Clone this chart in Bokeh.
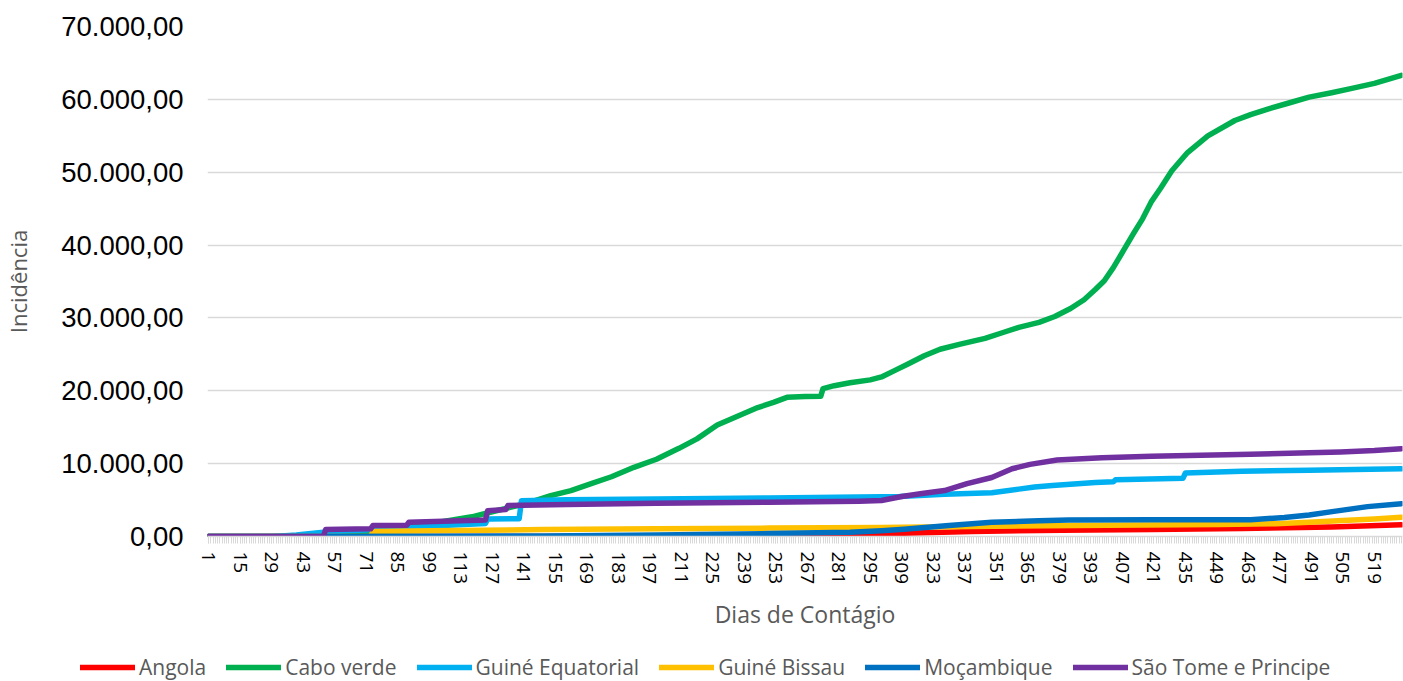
import numpy as np
from bokeh.plotting import figure
from bokeh.models import FixedTicker, CustomJSTickFormatter, Legend, LegendItem, Range1d
from bokeh.embed import file_html
from bokeh.resources import INLINE

# ---------------- data ----------------
n_days = 531
x_tick_labels = list(range(1, n_days + 1, 14))
y_ticks = [0, 10000, 20000, 30000, 40000, 50000, 60000, 70000]

series_names = ["Angola", "Cabo verde", "Guiné Equatorial", "Guiné Bissau",
                "Moçambique", "São Tome e Principe"]
series_colors = ["#FF0000", "#00B050", "#00B0F0", "#FFC000", "#0070C0", "#7030A0"]

angola_days = [1, 150, 200, 250, 290, 310, 340, 380, 420, 460, 500, 531]
angola_vals = [0, 0, 50, 150, 300, 450, 700, 850, 950, 1100, 1300, 1600]

cabo_days = [1, 35, 45, 60, 75, 90, 100, 110, 118, 127, 135, 143, 153, 162, 171, 180,
             190, 200, 210, 218, 227, 236, 245, 252, 258, 266, 273, 274, 279, 286, 295,
             300, 306, 312, 319, 326, 335, 346, 354, 361, 370, 377, 384, 390, 395, 399,
             403, 408, 412, 416, 420, 424, 429, 436, 445, 457, 464, 472, 481, 490, 500,
             509, 519, 531]
cabo_vals = [0, 0, 200, 500, 800, 1300, 1800, 2300, 2700, 3400, 4000, 4600, 5600, 6300,
             7250, 8200, 9500, 10600, 12100, 13400, 15300, 16500, 17700, 18400, 19100,
             19200, 19250, 20300, 20700, 21100, 21500, 21900, 22800, 23700, 24800, 25700,
             26400, 27200, 28000, 28700, 29400, 30200, 31300, 32500, 33900, 35100, 36900,
             39500, 41600, 43600, 46000, 47800, 50200, 52700, 55000, 57100, 57900, 58700,
             59500, 60300, 60900, 61500, 62200, 63300]

gequat_days = [1, 30, 40, 52, 70, 90, 105, 124, 125, 139, 140, 160, 200, 250, 300, 308,
               328, 349, 361, 368, 376, 395, 403, 404, 434, 435, 460, 490, 531]
gequat_vals = [0, 0, 200, 600, 900, 1200, 1500, 1800, 2400, 2450, 4900, 5050, 5150, 5300,
               5450, 5500, 5800, 6000, 6500, 6800, 7000, 7400, 7500, 7800, 8000, 8700,
               8950, 9100, 9300]

gbissau_days = [1, 73, 74, 100, 150, 200, 250, 300, 350, 400, 450, 475, 490, 505, 519, 531]
gbissau_vals = [0, 0, 700, 800, 950, 1050, 1150, 1250, 1400, 1550, 1650, 1750, 1950, 2200,
                2400, 2650]

mocamb_days = [1, 100, 150, 200, 250, 286, 300, 310, 330, 349, 370, 383, 420, 464, 479,
               490, 501, 516, 531]
mocamb_vals = [0, 30, 80, 200, 400, 600, 800, 1000, 1500, 1950, 2150, 2250, 2300, 2300,
               2600, 2950, 3450, 4100, 4500]

stp_days = [1, 52, 53, 73, 74, 89, 90, 124, 125, 133, 134, 160, 200, 250, 290, 300, 309,
            318, 328, 338, 349, 358, 366, 378, 398, 420, 464, 490, 504, 519, 531]
stp_vals = [0, 0, 950, 1050, 1500, 1550, 1950, 2250, 3550, 3700, 4250, 4400, 4550, 4700,
            4850, 4950, 5500, 5900, 6300, 7250, 8100, 9300, 9900, 10500, 10800, 11000,
            11300, 11500, 11600, 11800, 12050]

all_days = [angola_days, cabo_days, gequat_days, gbissau_days, mocamb_days, stp_days]
all_vals = [angola_vals, cabo_vals, gequat_vals, gbissau_vals, mocamb_vals, stp_vals]

# ---------------- main figure ----------------
p = figure(width=1403, height=641, output_backend="svg", toolbar_location=None,
           x_range=Range1d(0.5, n_days + 0.5), y_range=Range1d(0, 70000),
           min_border_left=206, min_border_right=1, min_border_top=26,
           min_border_bottom=105)
p.outline_line_color = None
p.background_fill_color = "white"
p.border_fill_color = "white"

# y axis
p.yaxis.ticker = FixedTicker(ticks=y_ticks)
p.yaxis.formatter = CustomJSTickFormatter(code="""
    var s = tick.toFixed(2).replace('.', ',');
    return s.replace(/\\B(?=(\\d{3})+(?!\\d))/g, '.');
""")
p.yaxis.axis_line_color = None
p.yaxis.major_tick_line_color = None
p.yaxis.major_tick_out = 0
p.yaxis.major_tick_in = 0
p.yaxis.minor_tick_line_color = None
p.yaxis.minor_tick_out = 0
p.yaxis.major_label_text_font = "Liberation Sans"
p.yaxis.major_label_text_font_size = "27.5px"
p.yaxis.major_label_text_color = "#000000"
p.yaxis.major_label_standoff = 24
p.yaxis.axis_label = "Incidência"
p.yaxis.axis_label_text_font = "Open Sans"
p.yaxis.axis_label_text_font_style = "normal"
p.yaxis.axis_label_text_font_size = "22px"
p.yaxis.axis_label_text_color = "#595959"
p.yaxis.axis_label_standoff = 25

# x axis
p.xaxis.ticker = FixedTicker(ticks=x_tick_labels, minor_ticks=list(range(1, n_days + 1)))
p.xaxis.axis_line_color = "#d9d9d9"
p.xaxis.axis_line_width = 1.5
p.xaxis.major_tick_line_color = "#d9d9d9"
p.xaxis.major_tick_out = 7
p.xaxis.major_tick_in = 0
p.xaxis.minor_tick_line_color = "#d9d9d9"
p.xaxis.minor_tick_out = 7
p.xaxis.minor_tick_in = 0
p.xaxis.major_label_orientation = "vertical"
p.xaxis.major_label_text_font = "Open Sans"
p.xaxis.major_label_text_font_size = "19px"
p.xaxis.major_label_text_color = "#000000"
p.xaxis.major_label_standoff = 8
p.xaxis.axis_label = "Dias de Contágio"
p.xaxis.axis_label_text_font = "Open Sans"
p.xaxis.axis_label_text_font_style = "normal"
p.xaxis.axis_label_text_font_size = "23px"
p.xaxis.axis_label_text_color = "#595959"
p.xaxis.axis_label_standoff = 11

# grid
p.xgrid.grid_line_color = None
p.ygrid.ticker = FixedTicker(ticks=y_ticks)
p.ygrid.grid_line_color = "#d9d9d9"
p.ygrid.grid_line_width = 1.5

# series
for name, color, d, v in zip(series_names, series_colors, all_days, all_vals):
    p.line(d, v, line_color=color, line_width=5.5, line_cap="round", line_join="round")

# ---------------- legend strip (separate root, so it is not frame-aligned) ----------------
leg = figure(width=1403, height=40, output_backend="svg", toolbar_location=None,
             x_range=Range1d(0, 1), y_range=Range1d(0, 1),
             min_border_left=0, min_border_right=0, min_border_top=0, min_border_bottom=0)
leg.xaxis.visible = False
leg.yaxis.visible = False
leg.xgrid.grid_line_color = None
leg.ygrid.grid_line_color = None
leg.outline_line_color = None
leg.border_fill_color = "white"

items = []
for name, color in zip(series_names, series_colors):
    r = leg.line(np.array([np.nan, np.nan]), np.array([np.nan, np.nan]), line_color=color,
                 line_width=5.5, line_cap="round", line_join="round")
    items.append(LegendItem(label=name, renderers=[r]))

legend = Legend(items=items, location=(80, 0), orientation="horizontal",
                glyph_width=55, glyph_height=20, label_standoff=4, spacing=20,
                padding=0, margin=0, label_text_font="Open Sans",
                label_text_font_size="21px", label_text_color="#595959",
                background_fill_alpha=0, border_line_alpha=0)
leg.add_layout(legend)

open("out.html", "w").write(file_html([p, leg], INLINE))
